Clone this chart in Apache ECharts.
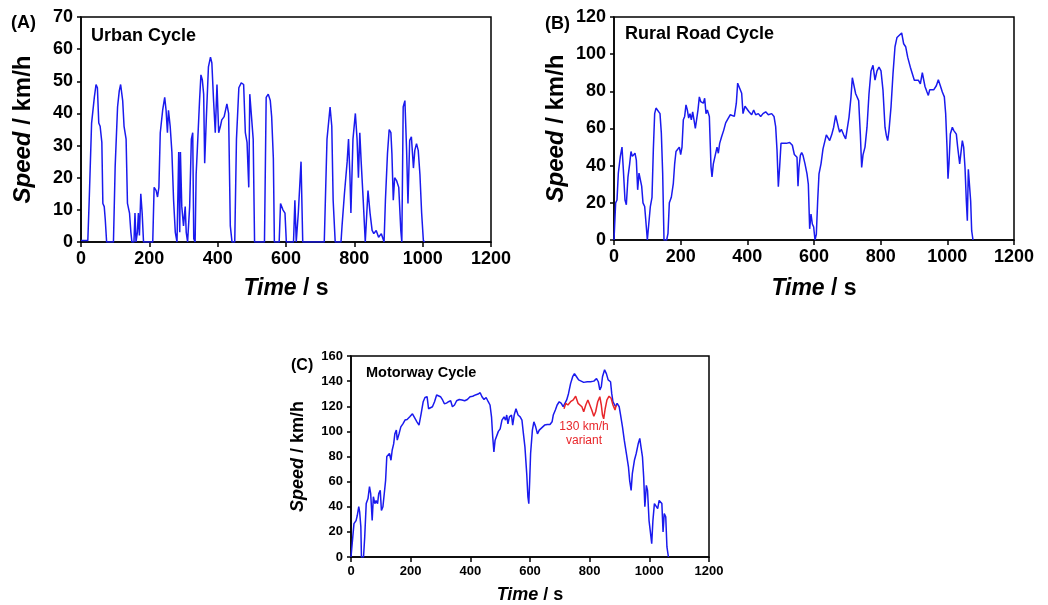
<!DOCTYPE html>
<html>
<head>
<meta charset="utf-8">
<script src="https://cdn.jsdelivr.net/npm/echarts@6/dist/echarts.min.js"></script>
<style>
  html, body { margin: 0; padding: 0; background: #fff; }
  #main { width: 1048px; height: 605px; }
</style>
</head>
<body>
<div id="main"></div>
<script>
// [time s, speed km/h]
var urbanCycle = [[0,0.5],[20,0.5],[24,13],[31,37],[39,45],[44,49],[48,48],[52,37],[56,36],[61,31],[64,12],[68,11],[71,7],[75,0],[95,0],[100,23.5],[107,42],[112,47],[116,49],[122,44],[126,36],[132,32],[136,12],[142,9],[146,3],[149,0],[155,0],[158,9],[161,0],[165,3],[168,9],[171,2],[175,15],[179,9],[183,0],[210,0],[214,17],[220,16],[224,14],[228,17],[232,34],[239,41],[245,45],[249,41],[253,34],[256,41],[261,36],[266,28],[271,13],[276,3],[281,0],[286,28],[289,3],[291,28],[295,11],[300,5],[305,11],[308,3],[312,0],[318,11],[323,32],[327,34],[330,1],[334,0],[337,21],[341,30],[347,44],[351,52],[355,50.5],[359,46],[362,24.5],[367,39],[373,54.5],[379,57.5],[383,55.7],[388,44],[393,34],[398,49],[403,34],[408,36],[412,38],[419,39],[427,43],[432,40],[437,5],[442,0],[450,0],[455,32],[462,48],[469,49.5],[476,49],[481,34],[486,31],[491,17],[494,46],[498,46],[504,32],[508,0],[537,0],[542,45],[548,46],[554,44],[558,39],[563,26],[566,0],[580,0],[584,12],[591,10],[597,9],[601,0],[622,0],[626,13],[630,0],[636,9],[644,25],[649,0],[712,0],[720,32],[729,42],[734,36],[738,13],[744,0],[761,0],[764,5],[771,15],[779,25],[783,32],[787,21],[790,9],[796,32],[803,40],[808,32],[812,20],[816,34],[820,25],[826,13],[832,0],[840,16],[846,9],[852,3.6],[857,2.6],[864,3.6],[871,1.5],[879,2.6],[887,0],[891,13],[897,27.5],[902,35],[907,34],[910,27.5],[914,13],[918,20],[924,19],[930,17],[936,3.6],[939,0],[943,42],[948,44],[953,28.5],[957,12],[962,31.6],[967,32.7],[973,23],[977,28.5],[982,30.6],[987,28.5],[992,21],[997,9],[1002,0.5],[1006,0]];

var ruralCycle = [[0,0],[2,0],[5,20],[9,21.5],[13,36],[19,45],[24,50],[28,38],[33,21.5],[37,19],[42,34],[47,41],[51,47.6],[55,45],[59,46],[63,46.7],[67,43],[71,27],[75,36],[79,37],[83,29],[87,20],[92,18],[97,7],[100,0],[106,0],[109,18],[114,23],[118,48.5],[122,68],[126,71],[132,71.5],[138,68],[142,57.5],[146,36],[150,0],[158,0],[162,3.6],[166,20],[172,23],[178,30.5],[182,41],[186,47.6],[192,46.7],[196,50],[200,46],[204,50],[208,64.7],[212,66.5],[216,72.7],[220,70],[224,65.6],[228,68],[232,64.7],[236,69],[240,64.7],[244,60],[248,59],[252,70],[256,77],[260,74.5],[264,75.4],[268,73.6],[272,76.3],[276,68],[280,70],[286,66.5],[291,39.5],[294,34],[298,41],[303,45],[309,50],[313,46.7],[317,52],[323,55.7],[329,59],[335,63],[343,65.6],[349,67.4],[355,66.5],[361,66.5],[367,73.6],[371,84.4],[377,83.5],[383,79],[387,68],[393,72],[399,72.7],[405,69],[413,67.4],[419,70],[425,67.4],[433,68],[440,66.5],[447,68],[455,69],[463,67.4],[473,68],[480,66.5],[485,61],[489,48.5],[493,28.7],[497,39.5],[501,52],[507,53],[517,52],[527,52.5],[535,51],[541,46],[545,45.5],[549,44.5],[552,29],[555,39],[559,45.5],[563,47],[567,45.5],[573,41],[579,35.6],[583,30],[587,6],[591,14],[595,8.6],[599,7],[603,0],[607,3],[611,21],[615,35.6],[621,41],[627,49],[633,53.5],[637,56.6],[642,55.7],[647,53.5],[653,56.6],[659,60.7],[665,67],[669,68],[673,60.7],[677,58],[682,59.6],[689,56.6],[695,54.4],[701,53.5],[705,66],[711,77],[715,87.3],[721,86.8],[725,78.7],[729,79.6],[734,75],[739,57],[743,39],[747,45.8],[753,50],[759,60.7],[765,78.7],[771,91],[777,94],[783,86],[789,91],[795,93],[801,91],[807,80.5],[813,60.7],[817,56.3],[821,53.5],[825,59],[831,71.5],[837,89.5],[843,104],[849,109],[855,110],[863,111.4],[869,105.6],[875,104],[881,98.4],[889,93],[895,93],[901,86],[907,85],[913,86],[919,84],[925,90],[929,89],[933,82.6],[939,79.6],[943,77.8],[947,80.8],[953,80.4],[959,80.8],[967,83],[973,86.2],[979,83],[985,79.6],[991,77],[995,68],[999,50],[1002,33],[1005,41.3],[1009,57],[1015,60.7],[1019,59],[1023,60],[1027,57],[1031,50],[1037,41],[1041,41],[1045,53.5],[1049,50],[1053,39],[1057,21],[1060,10.4],[1063,38],[1067,38],[1070,21],[1073,5],[1077,0]];

var motorwayCycle = [[0,0],[2,0],[6,16],[10,26.6],[17,29],[21,33],[26,40],[29,36],[33,24],[35,0],[42,0],[46,16],[51,42.5],[57,46.5],[62,56],[66,50.5],[71,29],[75,48],[80,42.5],[84,45],[89,42.5],[93,50.5],[98,53],[102,37],[107,40],[111,41],[116,61],[120,80],[125,81],[129,82.4],[134,77],[138,85],[143,90],[147,98],[152,101],[155,93],[161,98],[167,103.6],[174,106],[181,109],[188,109.5],[197,111.6],[206,114],[212,113],[221,107.6],[228,105],[235,114],[242,123.6],[248,127],[255,127.6],[260,118],[266,118],[273,119.6],[280,123.6],[287,129],[293,130],[300,127.6],[307,125],[313,122],[320,122.5],[327,123.6],[334,124.4],[340,119.6],[347,121],[354,124.4],[363,125.4],[372,125],[381,124.4],[390,125.4],[399,127.6],[408,128],[417,129],[426,129.7],[433,130.8],[439,127.6],[446,125.4],[453,127],[460,123.6],[466,121],[471,111.6],[475,95.7],[479,83.7],[483,93],[489,94.4],[494,100],[500,102],[506,109],[513,111.6],[518,109],[522,113],[526,106],[531,111.6],[538,113],[542,105],[547,113],[553,118],[560,113],[567,111.6],[573,109],[578,98],[583,87.7],[589,66.4],[593,47.8],[596,42.5],[599,61],[602,82.4],[608,101],[613,107.6],[619,103.6],[625,98],[631,101],[640,103],[649,105],[658,105.5],[667,105.5],[674,107.6],[678,113],[685,117],[691,121],[698,123.6],[705,122.3],[711,119.6],[716,121],[723,125],[729,130],[736,138],[743,143.5],[749,146],[756,143.5],[763,141],[769,139.5],[780,139],[792,139.5],[803,139.5],[814,140],[823,142],[829,139.5],[834,133],[839,135.5],[843,143.5],[850,149],[856,146],[862,141],[870,139.5],[874,130],[878,123.6],[883,122.3],[887,119.6],[892,122.3],[899,119.6],[903,114],[910,103.6],[916,93],[923,82.4],[930,71.8],[934,61],[939,53],[943,66.4],[950,77],[956,82.4],[963,90.4],[968,94.4],[972,87.7],[977,79.7],[981,63.8],[985,40],[990,57],[994,53],[999,29],[1003,21],[1008,10.6],[1012,29],[1017,42.5],[1023,41],[1028,38.5],[1033,45],[1037,46.5],[1042,42.5],[1046,20],[1050,34.5],[1055,32],[1059,8],[1064,0]];

var variant130 = [[714,118],[720,122.3],[727,121],[736,123.6],[745,125],[753,128],[761,122.3],[767,123.6],[774,119.6],[780,115.6],[787,121],[794,125],[800,123.6],[807,117],[814,112],[820,115.6],[827,123.6],[834,127.6],[839,121],[843,113],[847,110],[852,118],[858,125],[865,128],[872,126.3],[878,121],[885,117],[889,121]];

var timeTicks = [0, 1200, 200];   // min, max, interval
var speedMaxA = 70, speedStepA = 10;
var speedMaxB = 120, speedStepB = 20;
var speedMaxC = 160, speedStepC = 20;

var FONT = 'Liberation Sans, Arial, sans-serif';
var BLUE = '#1a1aee';
var RED = '#e8262a';

function plain(v) { return String(v); }

function xAxis(idx, fs, nameFs, gap) {
  return {
    type: 'value', gridIndex: idx,
    min: timeTicks[0], max: timeTicks[1], interval: timeTicks[2],
    name: '{it|Time} / s', nameLocation: 'middle', nameGap: gap,
    nameTextStyle: { fontFamily: FONT, fontSize: nameFs, fontWeight: 'bold', color: '#000',
      rich: { it: { fontFamily: FONT, fontSize: nameFs, fontWeight: 'bold', fontStyle: 'italic', color: '#000' } } },
    axisLine: { lineStyle: { color: '#000', width: 1.5 } },
    axisTick: { length: 5, lineStyle: { color: '#000', width: 1.5 } },
    axisLabel: { fontFamily: FONT, fontSize: fs, fontWeight: 'bold', color: '#000', margin: 8, formatter: plain },
    splitLine: { show: false }
  };
}
function yAxis(idx, max, step, fs, nameFs, gap) {
  return {
    type: 'value', gridIndex: idx, min: 0, max: max, interval: step,
    name: '{it|Speed} / km/h', nameLocation: 'middle', nameGap: gap,
    nameTextStyle: { fontFamily: FONT, fontSize: nameFs, fontWeight: 'bold', color: '#000',
      rich: { it: { fontFamily: FONT, fontSize: nameFs, fontWeight: 'bold', fontStyle: 'italic', color: '#000' } } },
    axisLine: { show: true, lineStyle: { color: '#000', width: 1.5 } },
    axisTick: { show: true, length: 4, lineStyle: { color: '#000', width: 1.5 } },
    axisLabel: { fontFamily: FONT, fontSize: fs, fontWeight: 'bold', color: '#000', margin: 8, formatter: plain },
    splitLine: { show: false }
  };
}
function line(idx, data, color) {
  return {
    type: 'line', xAxisIndex: idx, yAxisIndex: idx, data: data,
    showSymbol: false, symbol: 'none', animation: false,
    lineStyle: { color: color, width: 1.5 }
  };
}

var chart = echarts.init(document.getElementById('main'));
var gridBox = { show: true, borderColor: '#000', borderWidth: 1.5, backgroundColor: 'transparent' };
chart.setOption({
  animation: false,
  title: [
    { text: '(A)', left: 6, top: 9, textStyle: { fontFamily: FONT, fontSize: 18, fontWeight: 'bold', color: '#000' } },
    { text: 'Urban Cycle', left: 86, top: 22, textStyle: { fontFamily: FONT, fontSize: 18, fontWeight: 'bold', color: '#000' } },
    { text: '(B)', left: 540, top: 10, textStyle: { fontFamily: FONT, fontSize: 18, fontWeight: 'bold', color: '#000' } },
    { text: 'Rural Road Cycle', left: 620, top: 20, textStyle: { fontFamily: FONT, fontSize: 18, fontWeight: 'bold', color: '#000' } },
    { text: '(C)', left: 286, top: 353, textStyle: { fontFamily: FONT, fontSize: 16, fontWeight: 'bold', color: '#000' } },
    { text: 'Motorway Cycle', left: 361, top: 360, textStyle: { fontFamily: FONT, fontSize: 14.5, fontWeight: 'bold', color: '#000' } }
  ],
  grid: [
    Object.assign({ left: 81, top: 17, width: 410, height: 225 }, gridBox),
    Object.assign({ left: 614, top: 17, width: 400, height: 223 }, gridBox),
    Object.assign({ left: 351, top: 356, width: 358, height: 201 }, gridBox)
  ],
  xAxis: [xAxis(0, 18, 23, 35), xAxis(1, 18, 23, 37), xAxis(2, 13, 18, 29)],
  yAxis: [
    yAxis(0, speedMaxA, speedStepA, 18, 24, 46),
    yAxis(1, speedMaxB, speedStepB, 18, 24, 46),
    yAxis(2, speedMaxC, speedStepC, 13, 18, 44)
  ],
  series: [
    line(0, urbanCycle, BLUE),
    line(1, ruralCycle, BLUE),
    line(2, motorwayCycle, BLUE),
    Object.assign(line(2, variant130, RED), {
      z: 3,
      markPoint: {
        symbol: 'circle', symbolSize: 0,
        data: [{ coord: [781, 98] }],
        label: { show: true, formatter: '130 km/h\nvariant', color: RED, fontFamily: FONT, fontSize: 12, lineHeight: 14, position: 'inside' }
      }
    })
  ]
});
</script>
</body>
</html>
